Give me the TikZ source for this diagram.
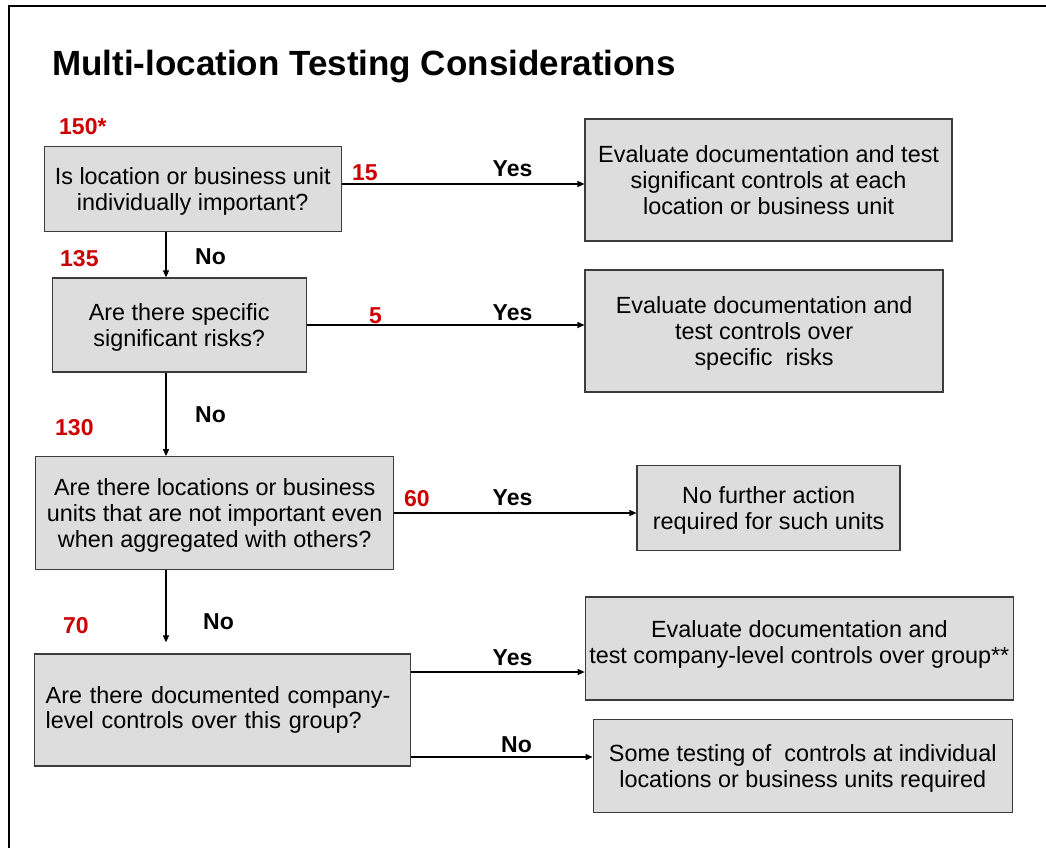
\documentclass[tikz,border=0pt]{standalone}
\usepackage{fontspec}
\setmainfont{Liberation Sans}
\usetikzlibrary{arrows.meta}
\definecolor{boxfill}{HTML}{DDDDDD}
\definecolor{boxline}{HTML}{3C3C3C}
\definecolor{numred}{HTML}{CC0000}
\begin{document}
\begin{tikzpicture}[x=1pt,y=-1pt,
  box/.style={draw=boxline, line width=1.3pt, fill=boxfill, inner sep=0pt,
    font=\fontsize{23.4}{25.8}\selectfont, align=center, text depth=0pt},
  num/.style={text=numred, font=\fontsize{23}{25}\selectfont\bfseries, inner sep=0pt, anchor=base west},
  lbl/.style={font=\fontsize{23}{25}\selectfont\bfseries, inner sep=0pt, anchor=base west},
  arr/.style={-{Triangle[length=7pt,width=6pt]}, line width=1.2pt, black}]

\useasboundingbox (0,0) rectangle (1046,848);
\draw[line width=2pt] (9,848) -- (9,6) -- (1046,6);

\node[font=\fontsize{35}{40}\selectfont\bfseries, inner sep=0pt, anchor=base west] (title) at (52,76) {Multi-location Testing Considerations};

% decision boxes
\node[box, minimum width=297pt, minimum height=85pt] (b1) at (192.7,189.2) {Is location or business unit\\individually important?};
\node[box, minimum width=254pt, minimum height=94pt] (b2) at (179.2,325) {Are there specific\\significant risks?};
\node[box, minimum width=358pt, minimum height=112.5pt] (b3) at (214.7,513) {Are there locations or business\\units that are not important even\\when aggregated with others?};
\node[box, minimum width=376pt, minimum height=112pt, align=left, text width=354pt, text depth=] (b4) at (222.7,710) {Are there documented company-\\level controls over this group?};

% result boxes
\node[box, minimum width=367pt, minimum height=122pt] (r1) at (768.6,180) {Evaluate documentation and test\\significant controls at each\\location or business unit};
\node[box, minimum width=358pt, minimum height=122pt] (r2) at (764.1,331) {Evaluate documentation and\\test controls over\\specific~~risks};
\node[box, minimum width=428pt, minimum height=103pt] (r4) at (799.3,648.6) {Evaluate documentation and\\test company-level controls over group**\\[-12pt]};
\node[box, minimum width=263pt, minimum height=85pt] (r3) at (768.6,508.2) {No further action\\required for such units};
\node[box, minimum width=419pt, minimum height=93.4pt] (r5) at (802.7,766) {Some testing of~~controls at individual\\locations or business units required};

% connectors
\draw[arr] (b1.east |- 0,184) -- (r1.west |- 0,184);
\draw[arr] (b2.east |- 0,325) -- (r2.west |- 0,325);
\draw[arr] (b3.east |- 0,513) -- (r3.west |- 0,513);
\draw[arr] (b4.east |- 0,672) -- (r4.west |- 0,672);
\draw[arr] (b4.east |- 0,757) -- (r5.west |- 0,757);
\draw[arr] (b1.south -| 166,0) -- (b2.north -| 166,0);
\draw[arr] (b2.south -| 166,0) -- (b3.north -| 166,0);
\draw[arr, shorten >=11pt] (b3.south -| 166,0) -- (b4.north -| 166,0);

% counts
\node[num] (n150) at (59,135) {150*};
\node[num] (n15) at (352,180) {15};
\node[num] (n135) at (60,266.5) {135};
\node[num] (n5) at (369,323) {5};
\node[num] (n130) at (55,435) {130};
\node[num] (n60) at (404,506) {60};
\node[num] (n70) at (63,633) {70};

% yes / no labels
\node[lbl] (y1) at (492.5,176.5) {Yes};
\node[lbl] (no1) at (195,264) {No};
\node[lbl] (y2) at (492.5,320) {Yes};
\node[lbl] (no2) at (195,422.7) {No};
\node[lbl] (y3) at (492.5,505.5) {Yes};
\node[lbl] (no3) at (203,629) {No};
\node[lbl] (y4) at (492.5,665) {Yes};
\node[lbl] (no4) at (501,752) {No};
\end{tikzpicture}
\end{document}
